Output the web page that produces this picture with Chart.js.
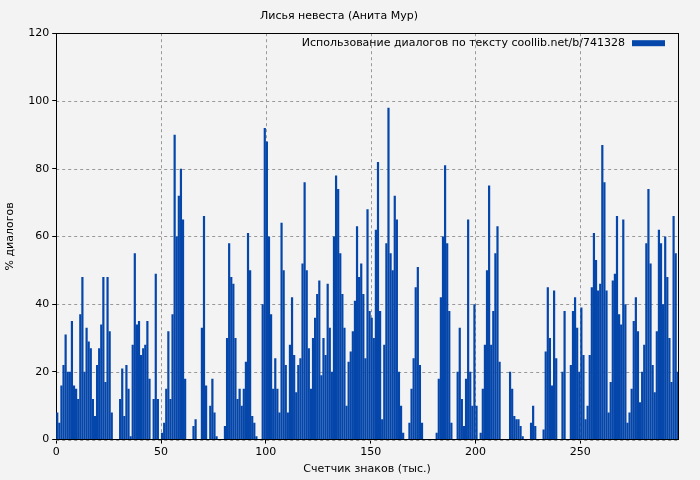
<!DOCTYPE html>
<html>
<head>
<meta charset="utf-8">
<script src="https://cdn.jsdelivr.net/npm/chart.js@4"></script>
<style>
  html, body { margin: 0; padding: 0; background: #f3f3f3; }
  #wrap { width: 700px; height: 480px; }
</style>
</head>
<body>
<div id="wrap"><canvas id="dialogChart" width="700" height="480"></canvas></div>
<script>
const chartTitle = 'Лисья невеста (Анита Мур)';
const seriesLabel = 'Использование диалогов по тексту coollib.net/b/741328';
const xTitle = 'Счетчик знаков (тыс.)';
const yTitle = '% диалогов';

// one value per thousand characters
const dialogShare = [
  8, 5, 16, 22, 31, 20, 20, 35, 16, 15, 12, 37, 48, 20, 33, 29, 27, 12, 7, 22,
  27, 34, 48, 17, 48, 32, 8, 0, 0, 0, 12, 21, 7, 22, 15, 1, 28, 55, 34, 35,
  25, 27, 28, 35, 18, 0, 12, 49, 12, 0, 2, 5, 15, 32, 12, 37, 90, 60, 72, 80,
  65, 18, 0, 0, 0, 4, 6, 0, 0, 33, 66, 16, 0, 10, 18, 8, 1, 0, 0, 0,
  4, 30, 58, 48, 46, 30, 12, 15, 10, 15, 23, 61, 50, 7, 5, 1, 0, 0, 40, 92,
  88, 60, 37, 15, 24, 15, 8, 64, 50, 22, 8, 28, 42, 25, 14, 22, 24, 52, 76, 50,
  27, 15, 30, 36, 43, 47, 19, 30, 25, 46, 33, 20, 60, 78, 74, 55, 43, 33, 10, 23,
  26, 32, 41, 63, 48, 52, 43, 24, 68, 38, 36, 30, 62, 82, 38, 6, 28, 58, 98, 55,
  50, 72, 65, 20, 10, 2, 0, 0, 5, 15, 24, 45, 51, 22, 5, 0, 0, 0, 0, 0,
  0, 2, 18, 42, 60, 81, 58, 38, 5, 0, 0, 20, 33, 12, 4, 18, 65, 20, 10, 40,
  10, 0, 2, 15, 28, 50, 75, 28, 38, 55, 63, 23, 0, 0, 0, 0, 20, 15, 7, 6,
  6, 4, 1, 0, 0, 0, 5, 10, 4, 0, 0, 0, 3, 26, 45, 30, 16, 44, 24, 0,
  0, 20, 38, 0, 0, 22, 38, 42, 33, 20, 39, 25, 6, 10, 25, 45, 61, 53, 44, 46,
  87, 76, 44, 8, 17, 47, 49, 66, 37, 34, 65, 40, 5, 8, 15, 35, 42, 32, 11, 20,
  28, 58, 74, 52, 22, 14, 32, 62, 58, 40, 60, 48, 30, 17, 66, 55, 20
];
const xTicks = [0, 50, 100, 150, 200, 250];
const yTicks = [0, 20, 40, 60, 80, 100, 120];

const barColor = '#0546ab';
const points = dialogShare.map((v, i) => ({ x: i + 0.5, y: v }));

// legend drawn inside the plot, top right, box after the text
const insideLegend = {
  id: 'insideLegend',
  afterDraw(c) {
    const g = c.ctx, a = c.chartArea;
    g.save();
    g.font = '11px "DejaVu Sans"';
    g.fillStyle = '#000';
    g.textAlign = 'right';
    g.textBaseline = 'middle';
    const boxR = a.right - 13, boxW = 33, y = a.top + 10;
    g.fillText(seriesLabel, boxR - boxW - 7, y);
    g.fillStyle = barColor;
    g.fillRect(boxR - boxW, y - 3, boxW, 6);
    g.restore();
  }
};

const ctx = document.getElementById('dialogChart').getContext('2d');
new Chart(ctx, {
  type: 'bar',
  data: {
    datasets: [{
      label: seriesLabel,
      data: points,
      backgroundColor: barColor,
      borderColor: barColor,
      borderWidth: 0,
      barPercentage: 1.05,
      categoryPercentage: 1
    }]
  },
  options: {
    responsive: false,
    animation: false,
    layout: { padding: { left: 0, right: 22, top: 0, bottom: 0 } },
    plugins: {
      legend: { display: false },
      tooltip: { enabled: false },
      title: {
        display: true,
        text: chartTitle,
        color: '#000',
        font: { family: 'DejaVu Sans', size: 11, weight: 'normal' },
        padding: { top: 10, bottom: 10 }
      }
    },
    scales: {
      x: {
        type: 'linear',
        offset: false,
        min: 0,
        max: 296.6,
        afterBuildTicks: s => { s.ticks = xTicks.map(v => ({ value: v })); },
        ticks: { color: '#000', font: { family: 'DejaVu Sans', size: 11 }, maxRotation: 0, padding: 2 },
        grid: { drawOnChartArea: false, offset: false, tickColor: '#000', tickLength: 4 },
        border: { display: true, color: '#000' },
        title: { display: true, text: xTitle, color: '#000', font: { family: 'DejaVu Sans', size: 11 }, padding: { top: 2 } }
      },
      y: {
        min: 0,
        max: 120,
        afterBuildTicks: s => { s.ticks = yTicks.map(v => ({ value: v })); },
        ticks: { color: '#000', font: { family: 'DejaVu Sans', size: 11 }, padding: 3 },
        grid: { drawOnChartArea: false, tickColor: '#000', tickLength: 4 },
        border: { display: true, color: '#000' },
        title: { display: true, text: yTitle, color: '#000', font: { family: 'DejaVu Sans', size: 11 }, padding: { bottom: 8 } }
      }
    }
  },
  plugins: [insideLegend, {
    id: 'dashGrid',
    beforeDatasetsDraw(c) {
      // dashed grid drawn over the plot background
      const g = c.ctx, a = c.chartArea;
      g.save();
      g.strokeStyle = '#999';
      g.setLineDash([3, 3]);
      g.lineWidth = 1;
      xTicks.forEach(v => {
        const px = Math.round(c.scales.x.getPixelForValue(v)) + 0.5;
        g.beginPath(); g.moveTo(px, a.top); g.lineTo(px, a.bottom); g.stroke();
      });
      yTicks.forEach(v => {
        const py = Math.round(c.scales.y.getPixelForValue(v)) + 0.5;
        g.beginPath(); g.moveTo(a.left, py); g.lineTo(a.right, py); g.stroke();
      });
      g.strokeStyle = '#000';
      g.setLineDash([]);
      g.strokeRect(Math.round(a.left) + 0.5, Math.round(a.top) + 0.5, Math.round(a.right - a.left), Math.round(a.bottom - a.top));
      g.restore();
    }
  }]
});
</script>
</body>
</html>
